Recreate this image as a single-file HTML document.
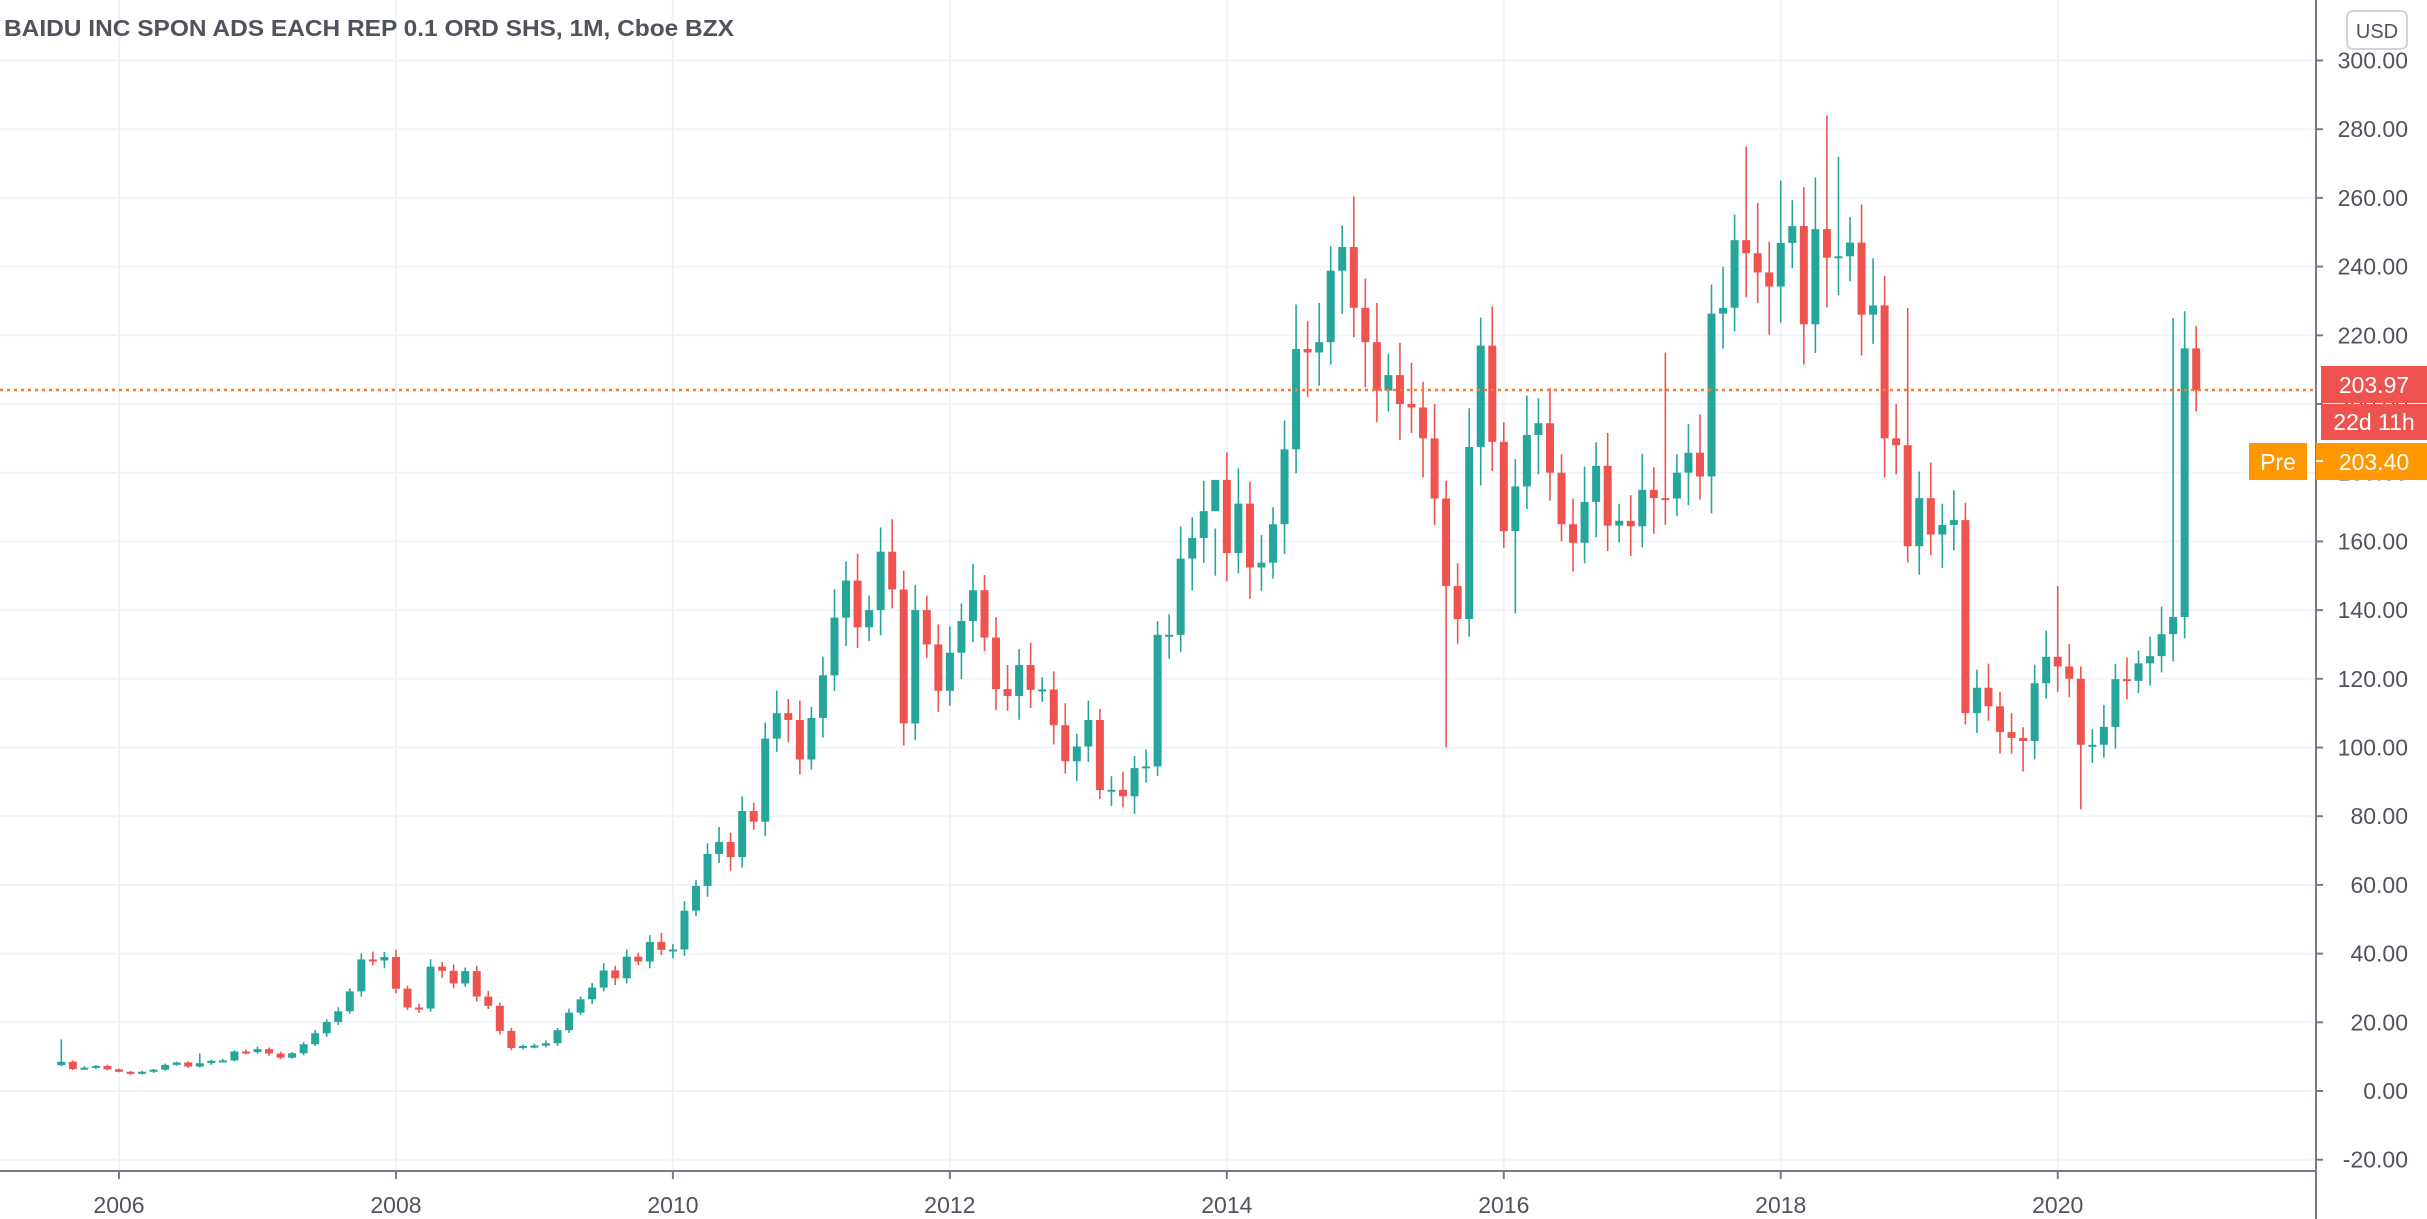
<!DOCTYPE html>
<html><head><meta charset="utf-8"><style>
html,body{margin:0;padding:0;background:#fff;}
svg{display:block;}
text{font-family:"Liberation Sans",sans-serif;}
</style></head><body>
<svg id="c" width="2427" height="1219" xmlns="http://www.w3.org/2000/svg">
<rect width="2427" height="1219" fill="#fff"/>
<g id="grid" stroke="#f0f3fa" stroke-width="2"></g>
<g id="candles"></g>
<line x1="0" y1="390" x2="2316" y2="390" stroke="#f57c2a" stroke-width="2.5" stroke-dasharray="3,4"/>
<line x1="2316" y1="0" x2="2316" y2="1219" stroke="#787b86" stroke-width="2"/>
<line x1="0" y1="1171" x2="2316" y2="1171" stroke="#787b86" stroke-width="2"/>
<g id="axis" fill="#50535e" font-size="23"></g>
<text x="4" y="36" font-size="23" font-weight="bold" fill="#50535e" textLength="730" lengthAdjust="spacingAndGlyphs">BAIDU INC SPON ADS EACH REP 0.1 ORD SHS, 1M, Cboe BZX</text>
<rect x="2347" y="11" width="60" height="38" rx="6" fill="#fff" stroke="#d1d4dc" stroke-width="2"/>
<text x="2377" y="38" font-size="20" fill="#50535e" text-anchor="middle">USD</text>
<rect x="2321" y="366" width="106" height="37" fill="#ef5350"/>
<text x="2374" y="393" font-size="23" fill="#fff" text-anchor="middle">203.97</text>
<rect x="2321" y="404" width="106" height="36" fill="#ef5350"/>
<text x="2374" y="430" font-size="23" fill="#fff" text-anchor="middle">22d 11h</text>
<rect x="2249" y="443" width="58" height="37" fill="#ff9800"/>
<text x="2278" y="470" font-size="23" fill="#fff" text-anchor="middle">Pre</text>
<rect x="2316" y="443" width="111" height="37" fill="#ff9800"/>
<line x1="2316" y1="461" x2="2323" y2="461" stroke="#fff" stroke-width="2"/>
<text x="2374" y="470" font-size="23" fill="#fff" text-anchor="middle">203.40</text>
</svg>
<script>
var NS="http://www.w3.org/2000/svg";
function Y(v){return 1091-3.435*v;}
function X(m){return 119+11.54*m;}
function el(p,t,a,txt){var e=document.createElementNS(NS,t);for(var k in a)e.setAttribute(k,a[k]);if(txt!=null)e.textContent=txt;document.getElementById(p).appendChild(e);return e;}
for(var v=-20;v<=300;v+=20){var y=Y(v);el("grid","line",{x1:0,y1:y,x2:2316,y2:y});
 el("axis","line",{x1:2316,y1:y,x2:2323,y2:y,stroke:"#787b86","stroke-width":2});
 el("axis","text",{x:2408,y:y+8,"text-anchor":"end"},v.toFixed(2));}
for(var yr=2006;yr<=2020;yr+=2){var x=X((yr-2006)*12);el("grid","line",{x1:x,y1:0,x2:x,y2:1171});
 el("axis","line",{x1:x,y1:1171,x2:x,y2:1179,stroke:"#787b86","stroke-width":2});
 el("axis","text",{x:x,y:1213,"text-anchor":"middle"},""+yr);}
var closes=[8.5,6.4,6.8,7.3,6.3,
5.6,5.0,5.6,6.2,7.6,8.3,7.1,8.1,8.8,8.9,11.5,11.3,
12.2,10.9,9.7,11.0,13.6,16.8,20.1,23.2,29.0,38.3,38.0,39.0,
29.8,24.3,24.0,36.2,35.0,31.3,34.9,27.5,24.8,17.5,12.5,13.1,
13.2,13.9,17.7,22.8,26.7,30.1,35.1,32.8,39.1,37.7,43.4,41.1,
41.2,52.5,59.7,69.0,72.5,68.1,81.5,78.4,102.6,110,108,96.5,
108.6,121,137.8,148.6,135,140,157,146,107,140,130,116.5,
127.6,136.8,145.8,132,117,115,124,116.8,116.9,106.5,96,100.3,
108,87.6,87.7,85.8,94,94.5,132.8,132.8,155,161,168.8,177.9,
156.6,171,152.4,153.8,165,186.8,216,215,218,238.8,245.7,228,
218,203.9,208.4,200,199,190,172.5,147,137.4,187.5,217,189,
163,176,191,194.4,180,165,159.6,171.5,182,164.6,166,164.4,
175,172.6,172.5,180,185.8,178.9,226.3,228,247.7,243.9,238.3,234.2,
246.9,251.8,223.2,250.9,242.6,243,247,226,228.7,190,188,158.6,
172.6,162,164.8,166.2,110,117.4,112,104.5,102.8,101.9,118.7,126.4,
123.6,120,100.8,100.8,106,119.9,119.4,124.5,126.6,133,138,216.2,203.97];
var hiO={0:15,12:11,146:275,153:284,154:272,183:225,184:227,160:228,149:265,139:215,100:150,111:252,173:147};
var loO={120:100,175:82,126:139,170:93};
var prev=7.5;
for(var i=0;i<closes.length;i++){
 var m=i-5,c=closes[i],o=prev;prev=c;
 var hi=Math.max(o,c)*(1.03+0.03*((i*7)%5)/4),lo=Math.min(o,c)*(0.97-0.03*((i*3)%5)/4);
 if(hiO[i])hi=hiO[i];if(loO[i])lo=loO[i];
 var col=c>=o?"#26a69a":"#ef5350",x=X(m);
 el("candles","line",{x1:x,y1:Y(hi),x2:x,y2:Y(lo),stroke:col,"stroke-width":1.6});
 var t=Y(Math.max(o,c)),b=Y(Math.min(o,c));if(b-t<2){b=t+2;}
 el("candles","rect",{x:x-4,y:t,width:8,height:b-t,fill:col});
}
</script>
</body></html>
